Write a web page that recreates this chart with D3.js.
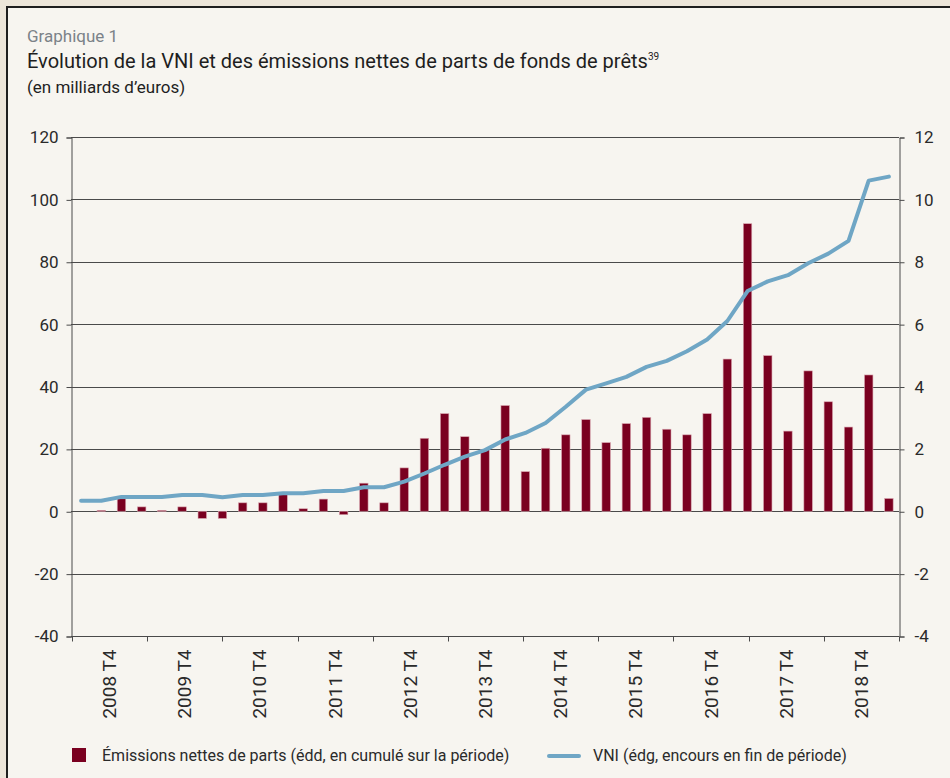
<!DOCTYPE html>
<html>
<head>
<meta charset="utf-8">
<script src="https://cdn.jsdelivr.net/npm/d3@7"></script>
<style>
  body { margin: 0; background: #ece5d9; }
  svg { display: block; font-family: Roboto, "DejaVu Sans", sans-serif; }
</style>
</head>
<body>
<div id="chart"></div>
<script>
// quarters shown on the category axis (41 points)
const quarters = [
  '2008 T4', '2009 T1', '2009 T2', '2009 T3', '2009 T4', '2010 T1', '2010 T2', '2010 T3', '2010 T4',
  '2011 T1', '2011 T2', '2011 T3', '2011 T4', '2012 T1', '2012 T2', '2012 T3', '2012 T4',
  '2013 T1', '2013 T2', '2013 T3', '2013 T4', '2014 T1', '2014 T2', '2014 T3', '2014 T4',
  '2015 T1', '2015 T2', '2015 T3', '2015 T4', '2016 T1', '2016 T2', '2016 T3', '2016 T4',
  '2017 T1', '2017 T2', '2017 T3', '2017 T4', '2018 T1', '2018 T2', '2018 T3', '2018 T4'
];

// year labels printed under the axis
const yearLabels = ['2008 T4', '2009 T4', '2010 T4', '2011 T4', '2012 T4', '2013 T4',
  '2014 T4', '2015 T4', '2016 T4', '2017 T4', '2018 T4'];

// net issuance of shares (right scale, bn euros)
const emissions = [null, 0.03, 0.40, 0.14, 0.03, 0.14, -0.23, -0.23, 0.27, 0.27, 0.54, 0.08, 0.39,
  -0.11, 0.90, 0.27, 1.39, 2.34, 3.13, 2.39, 1.98, 3.39, 1.27, 2.02, 2.45, 2.94, 2.20, 2.81,
  3.01, 2.63, 2.45, 3.13, 4.88, 9.22, 4.99, 2.57, 4.50, 3.51, 2.70, 4.37, 0.41];

// net asset value (left scale, bn euros)
const vni = [3.35, 3.35, 4.6, 4.6, 4.6, 5.2, 5.2, 4.5, 5.2, 5.2, 5.8, 5.8, 6.5, 6.5, 7.7, 7.7,
  9.5, 12.1, 14.9, 17.5, 19.6, 23.0, 25.1, 28.3, 33.5, 39.0, 41.0, 43.1, 46.3, 48.2, 51.3,
  55.1, 61.0, 70.6, 73.7, 75.7, 79.5, 82.6, 86.7, 106.0, 107.3];

const leftTicks = [-40, -20, 0, 20, 40, 60, 80, 100, 120];
const rightTicks = [-4, -2, 0, 2, 4, 6, 8, 10, 12];

const W = 950, H = 778;
const plot = { left: 71, right: 899, top: 137, bottom: 636 };

const svg = d3.select('#chart').append('svg')
  .attr('width', W)
  .attr('height', H);

// panel with dark frame on top and left
svg.append('rect').attr('x', 0).attr('y', 0).attr('width', W).attr('height', H).attr('fill', '#ece5d9');
svg.append('rect').attr('x', 7).attr('y', 7).attr('width', W).attr('height', H)
  .attr('fill', '#f7f5f0').attr('stroke', '#1e1e1e').attr('stroke-width', 2);

// titles
svg.append('text').attr('x', 27).attr('y', 42)
  .attr('font-size', 17).attr('fill', '#7b8288').text('Graphique 1');
const title = svg.append('text').attr('x', 27).attr('y', 68)
  .attr('font-size', 20).attr('fill', '#1e1e1e');
title.append('tspan').text('Évolution de la VNI et des émissions nettes de parts de fonds de prêts');
title.append('tspan').attr('font-size', 10).attr('dy', -8).text('39');
svg.append('text').attr('x', 27).attr('y', 93)
  .attr('font-size', 17).attr('fill', '#1e1e1e').text('(en milliards d’euros)');

// scales
const x = d3.scaleBand().domain(quarters).range([plot.left, plot.right]).paddingInner(0.58).paddingOuter(0.29);
const yLeft = d3.scaleLinear().domain([-40, 120]).range([plot.bottom, plot.top]);
const yRight = d3.scaleLinear().domain([-4, 12]).range([plot.bottom, plot.top]);
const xYears = d3.scaleLinear().domain([0, yearLabels.length]).range([plot.left + 1, plot.right]);

// gridlines
svg.append('g').selectAll('line')
  .data(leftTicks)
  .enter()
  .append('line')
  .attr('x1', plot.left).attr('x2', plot.right)
  .attr('y1', d => Math.round(yLeft(d)) + 0.5).attr('y2', d => Math.round(yLeft(d)) + 0.5)
  .attr('stroke', '#4a4a4a').attr('stroke-width', 1);

// left axis
const axLeft = svg.append('g')
  .attr('transform', `translate(${plot.left + 0.5},0.5)`)
  .call(d3.axisLeft(yLeft).tickValues(leftTicks).tickFormat(d => String(d)).tickSize(5).tickPadding(8));

// right axis
const axRight = svg.append('g')
  .attr('transform', `translate(${plot.right + 0.5},0.5)`)
  .call(d3.axisRight(yRight).tickValues(rightTicks).tickFormat(d => String(d)).tickSize(5).tickPadding(10));

[axLeft, axRight].forEach(a => {
  a.select('.domain').attr('stroke', '#4a4a4a');
  a.selectAll('line').attr('stroke', '#4a4a4a');
  a.selectAll('text').attr('font-size', 17).attr('fill', '#2a2a2a').attr('font-family', 'Roboto');
});

// bottom axis: yearly tick marks with labels between them
const axBottom = svg.append('g')
  .attr('transform', `translate(0,${Math.round(plot.bottom) + 0.5})`);
axBottom.selectAll('line.tick')
  .data(d3.range(yearLabels.length + 1))
  .enter()
  .append('line')
  .attr('class', 'tick')
  .attr('x1', d => Math.round(xYears(d)) + 0.5).attr('x2', d => Math.round(xYears(d)) + 0.5)
  .attr('y1', 0).attr('y2', 5)
  .attr('stroke', '#4a4a4a');
axBottom.selectAll('text')
  .data(yearLabels)
  .enter()
  .append('text')
  .attr('transform', (d, i) => `translate(${xYears(i + 0.5) + 6.5},13) rotate(-90)`)
  .attr('text-anchor', 'end')
  .attr('font-size', 19)
  .attr('fill', '#2a2a2a')
  .text(d => d);

// bars (right scale)
svg.append('g').selectAll('rect')
  .data(quarters.map((q, i) => ({ q, v: emissions[i] })).filter(d => d.v !== null))
  .enter()
  .append('rect')
  .attr('x', d => x(d.q))
  .attr('width', x.bandwidth())
  .attr('y', d => yRight(Math.max(0, d.v)))
  .attr('height', d => Math.max(1, Math.abs(yRight(d.v) - yRight(0))))
  .attr('fill', '#7a0020')
  .attr('stroke', '#d9a6b0')
  .attr('stroke-width', 0.6);

// VNI line (left scale)
const line = d3.line()
  .x((d, i) => x(quarters[i]) + x.bandwidth() / 2)
  .y(d => yLeft(d));

svg.append('path')
  .datum(vni)
  .attr('d', line)
  .attr('fill', 'none')
  .attr('stroke', '#6fa6c5')
  .attr('stroke-width', 4)
  .attr('stroke-linejoin', 'round')
  .attr('stroke-linecap', 'round');

// legend
const legend = svg.append('g');
legend.append('rect').attr('x', 72).attr('y', 748).attr('width', 14).attr('height', 14).attr('fill', '#7a0020');
legend.append('text').attr('x', 102).attr('y', 761).attr('font-size', 16).attr('fill', '#2a2a2a')
  .text('Émissions nettes de parts (édd, en cumulé sur la période)');
legend.append('line').attr('x1', 549).attr('x2', 579).attr('y1', 756).attr('y2', 756)
  .attr('stroke', '#6fa6c5').attr('stroke-width', 4).attr('stroke-linecap', 'round');
legend.append('text').attr('x', 593).attr('y', 761).attr('font-size', 16).attr('fill', '#2a2a2a')
  .text('VNI (édg, encours en fin de période)');
</script>
</body>
</html>
